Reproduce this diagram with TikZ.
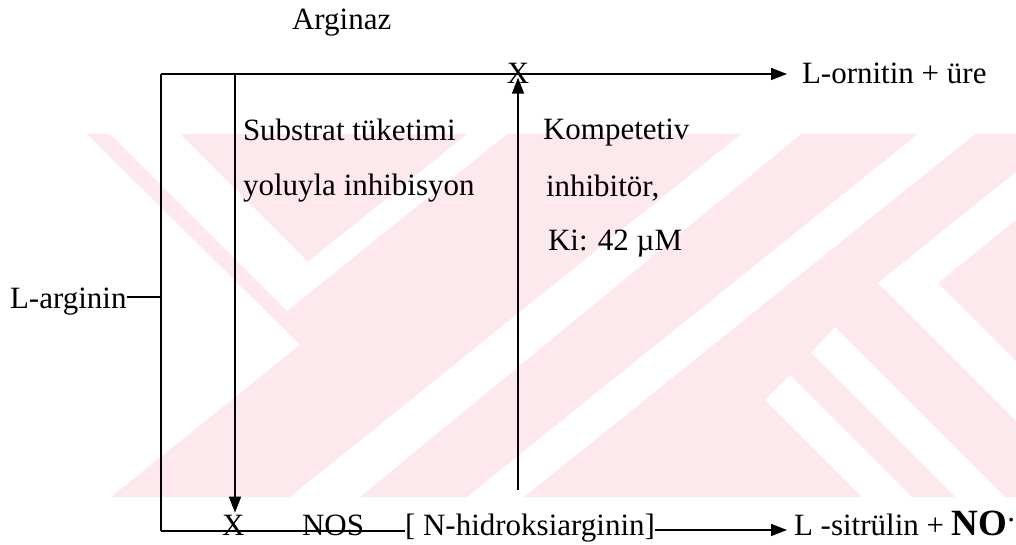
\documentclass[tikz,border=0pt]{standalone}
\usepackage{fontspec}
\setmainfont{Liberation Serif}
\usetikzlibrary{arrows.meta}
\definecolor{wm}{RGB}{252,232,237}
\tikzset{
  txt/.style={inner sep=0pt, outer sep=0pt, anchor=base west, font=\fontsize{31}{37}\selectfont},
  xmark/.style={inner sep=0pt, outer sep=0pt, font=\fontsize{31}{37}\selectfont},
  ln/.style={line width=1.6pt, black},
  arr/.style={ln, -{Triangle[length=16pt,width=12pt]}},
}
\begin{document}
\begin{tikzpicture}[x=1pt,y=-1pt]
\useasboundingbox (0,0) rectangle (1016,545);
% watermark
\begin{scope}
\clip (0,134) rectangle (1016,497);
\fill[wm] (87,134) -- (300,345) -- (111,497) -- (1016,497) -- (1016,134) -- cycle;
\fill[white] (110,134) -- (287,311) -- (507,134) -- (467,134) -- (308,262) -- (180,134) -- cycle;
\fill[white] (290,497) -- (360,497) -- (801,134) -- (741,134) -- cycle;
\fill[white] (467,497) -- (524,497) -- (975,134) -- (918,134) -- cycle;
\fill[white] (878,283) -- (1016,172) -- (1016,220) -- (938,283) -- (1016,361) -- (1016,421) -- cycle;
\fill[white] (835,327) -- (1005,497) -- (955,497) -- (811,353) -- cycle;
\fill[white] (790,375) -- (912,497) -- (862,497) -- (765,400) -- cycle;
\end{scope}
% texts
\node[txt] (arg) at (292,30) {Arginaz};
\node[txt] (orn) at (802,84) {L-ornitin + üre};
\node[txt] (sub1) at (243,141) {Substrat tüketimi};
\node[txt] (sub2) at (243,196) {yoluyla inhibisyon};
\node[txt] (kom1) at (543,140) {Kompetetiv};
\node[txt] (kom2) at (546,197) {inhibitör,};
\node[txt] (kom3) at (548,250) {Ki: 42 µM};
\node[txt] (larg) at (10,308) {L-arginin};
\node[xmark] (xtop) at (518,73) {X};
\node[txt] (xbot) at (222,535) {X};
\node[txt] (nos) at (302,535) {NOS};
\node[txt] (hyd) at (405,535) {[ N-hidroksiarginin]};
\node[txt] (sit) at (794,535) {L -sitrülin + {\fontsize{37}{40}\selectfont\bfseries NO}\raisebox{0.42em}{.}};
% coordinates
\coordinate (tl) at (161,74);
\coordinate (bl) at (161,531);
\coordinate (lj) at (161,297);
\coordinate (sa) at (235,74);
\coordinate (kb) at (518,490);
\coordinate (ba) at (0,530);
% connectors
\draw[ln] (larg.east |- lj) -- (lj);
\draw[ln] (bl) -- (tl);
\draw[arr, shorten >=15pt] (tl) -- (tl -| orn.west);
\draw[ln] (bl) -- (bl -| hyd.west);
\draw[arr] (sa) -- ([yshift=2pt]sa |- xbot.north);
\draw[arr] (kb) -- ([yshift=5.5pt]xtop.south);
\draw[arr, shorten >=7pt] (hyd.east |- ba) -- (sit.west |- ba);
\end{tikzpicture}
\end{document}
